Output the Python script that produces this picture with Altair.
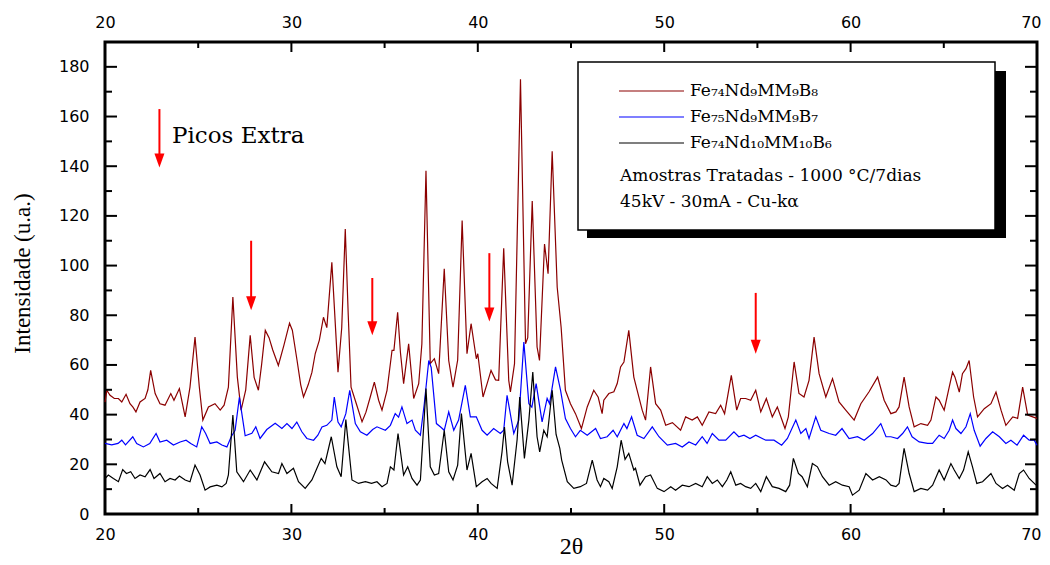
import altair as alt
import pandas as pd

# ---------------- data ----------------
names = ["Fe74Nd9MM9B8", "Fe75Nd9MM9B7", "Fe74Nd10MM10B6"]
colors = ["#8B0000", "#0000FF", "#000000"]

red_x = [20.0, 20.1, 20.27, 20.5, 20.72, 20.9, 21.13, 21.34, 21.5, 21.66, 21.88, 22.15, 22.3, 22.45, 22.69, 22.95,
         23.22, 23.53, 23.7, 23.99, 24.3, 24.56, 24.83, 25.06, 25.25, 25.55, 25.9, 26.18, 26.39, 26.62, 26.86, 27.1,
         27.3, 27.55, 27.79, 28.0, 28.23, 28.4, 28.6, 28.8, 29.0, 29.3, 29.6, 29.9, 30.05, 30.3, 30.5, 30.65, 30.9,
         31.1, 31.28, 31.5, 31.72, 31.9, 32.17, 32.5, 32.7, 32.89, 33.05, 33.2, 33.5, 33.79, 34.0, 34.23, 34.45, 34.68,
         34.86, 35.13, 35.4, 35.5, 35.7, 35.85, 36.02, 36.29, 36.56, 36.83, 37.0, 37.22, 37.45, 37.67, 37.9, 38.2,
         38.44, 38.67, 38.92, 39.16, 39.42, 39.64, 39.92, 40.0, 40.28, 40.5, 40.71, 40.95, 41.12, 41.39, 41.66, 41.75,
         41.97, 42.29, 42.56, 42.68, 42.92, 43.18, 43.31, 43.58, 43.77, 43.99, 44.26, 44.47, 44.7, 44.97, 45.24,
         45.56, 45.87, 46.22, 46.46, 46.67, 46.76, 47.03, 47.3, 47.48, 47.66, 47.84, 48.1, 48.37, 48.55, 48.82, 49.0,
         49.27, 49.54, 49.81, 50.08, 50.44, 50.88, 51.15, 51.5, 51.78, 52.04, 52.4, 52.76, 53.03, 53.24, 53.6, 53.89,
         54.1, 54.37, 54.64, 54.91, 55.18, 55.48, 55.8, 56.07, 56.48, 56.66, 56.97, 57.23, 57.5, 57.77, 58.04, 58.31,
         58.67, 59.03, 59.38, 59.74, 60.19, 60.55, 60.99, 61.45, 61.8, 62.16, 62.43, 62.6, 62.87, 63.14, 63.41, 63.77,
         64.13, 64.31, 64.58, 64.75, 65.02, 65.29, 65.47, 65.6, 65.83, 66.0, 66.19, 66.36, 66.6, 66.81, 67.17, 67.53,
         67.8, 68.07, 68.33, 68.7, 68.96, 69.23, 69.5, 69.77, 70.0]
red_y = [45.0, 49.8, 47.8, 46.5, 46.5, 45.1, 48.2, 44.4, 43.0, 41.1, 45.1, 46.5, 50.0, 57.8, 48.5, 44.4,
         43.8, 48.5, 45.8, 50.5, 39.1, 51.1, 71.2, 51.1, 37.8, 43.1, 44.4, 41.8, 43.8, 51.1, 87.3, 55.1,
         41.8, 50.0, 71.9, 55.0, 49.8, 60.0, 73.9, 71.0, 66.0, 59.8, 68.0, 76.8, 74.0, 62.0, 52.0, 47.1, 52.0,
         57.0, 64.6, 70.0, 79.2, 75.0, 101.3, 57.1, 75.0, 114.7, 80.0, 51.1, 44.0, 37.1, 41.0, 47.1, 53.1, 45.8,
         41.8, 49.8, 65.9, 65.9, 81.2, 65.0, 52.5, 68.5, 46.5, 52.5, 68.5, 138.2, 60.5, 62.5, 56.5, 98.7,
         61.8, 51.1, 62.0, 118.1, 64.5, 76.6, 62.5, 64.5, 47.1, 52.5, 57.8, 54.0, 53.8, 107.0, 53.8, 49.1,
         60.5, 175.0, 68.5, 71.0, 126.0, 67.2, 61.8, 108.7, 96.7, 146.0, 91.3, 75.2, 49.8, 44.4, 40.4,
         34.4, 43.1, 49.8, 47.0, 40.4, 45.8, 48.5, 49.2, 52.5, 59.2, 61.2, 73.9, 55.1, 49.8, 41.8, 37.8,
         59.2, 44.4, 41.8, 35.7, 36.8, 33.7, 39.1, 37.8, 39.1, 35.7, 41.1, 40.4, 43.8, 40.4, 55.8, 41.8,
         46.5, 46.5, 45.8, 49.8, 41.1, 46.5, 39.1, 43.1, 34.4, 39.1, 61.2, 48.5, 47.1, 53.8, 71.2, 56.5,
         47.1, 54.5, 45.1, 41.8, 37.8, 44.4, 49.2, 55.1, 45.8, 40.4, 41.1, 43.1, 55.1, 43.1, 35.1, 36.4,
         35.7, 37.8, 47.1, 45.8, 41.8, 51.1, 57.1, 55.1, 49.1, 56.5, 58.5, 61.8, 47.1, 39.1, 42.4, 44.4,
         49.1, 41.8, 35.7, 39.1, 38.5, 51.1, 39.8, 39.1, 38.5]

blue_x = [20.0, 20.36, 20.7, 20.9, 21.1, 21.49, 21.7, 22.06, 22.4, 22.74, 22.95, 23.31, 23.67, 24.03, 24.35, 24.6,
          24.92, 25.19, 25.4, 25.64, 26.0, 26.27, 26.54, 26.77, 26.98, 27.21, 27.35, 27.52, 27.88, 28.09, 28.32,
          28.68, 29.13, 29.49, 29.76, 30.03, 30.29, 30.56, 30.83, 31.19, 31.42, 31.64, 31.9, 32.17, 32.3, 32.5,
          32.67, 32.92, 33.13, 33.43, 33.7, 34.05, 34.36, 34.59, 35.04, 35.31, 35.57, 35.75, 35.93, 36.2, 36.47,
          36.65, 36.92, 37.13, 37.37, 37.5, 37.78, 37.99, 38.2, 38.44, 38.71, 38.97, 39.33, 39.6, 39.92, 40.23,
          40.5, 40.85, 41.21, 41.39, 41.57, 41.93, 42.2, 42.47, 42.74, 42.9, 43.13, 43.45, 43.72, 43.85, 44.17,
          44.44, 44.7, 44.97, 45.24, 45.5, 45.87, 46.32, 46.58, 46.94, 47.26, 47.48, 47.84, 48.0, 48.25, 48.55,
          48.91, 49.36, 49.72, 50.17, 50.61, 50.97, 51.33, 51.69, 52.04, 52.3, 52.58, 52.94, 53.3, 53.74, 54.0,
          54.28, 54.6, 54.91, 55.45, 55.89, 56.3, 56.61, 57.06, 57.33, 57.6, 57.77, 58.13, 58.4, 58.85, 59.2,
          59.54, 59.92, 60.37, 60.73, 61.18, 61.62, 61.9, 62.16, 62.52, 62.79, 63.05, 63.3, 63.68, 64.13, 64.4,
          64.75, 65.02, 65.29, 65.47, 65.65, 65.92, 66.19, 66.42, 66.63, 66.95, 67.26, 67.62, 67.98, 68.33, 68.6,
          68.93, 69.28, 69.58, 69.85, 70.0]
blue_y = [28.4, 27.8, 28.4, 29.7, 27.8, 31.1, 28.4, 27.0, 28.4, 32.4, 29.0, 29.7, 27.8, 29.0, 29.7, 28.4,
          27.0, 35.1, 32.4, 28.4, 29.0, 27.8, 27.0, 31.1, 33.7, 47.0, 40.0, 31.5, 32.5, 35.1, 30.4,
          34.0, 36.5, 34.4, 36.4, 34.4, 37.0, 33.1, 30.4, 29.7, 31.7, 35.0, 35.7, 37.8, 47.1, 37.0,
          35.1, 40.4, 49.8, 36.4, 33.1, 31.7, 34.0, 35.1, 33.7, 35.7, 40.4, 39.0, 43.1, 36.4, 37.8,
          33.7, 31.7, 44.4, 61.8, 59.0, 36.4, 35.1, 33.7, 41.1, 33.7, 37.8, 51.8, 39.1, 39.1, 33.7,
          31.7, 34.4, 32.4, 33.7, 47.8, 32.4, 37.8, 69.2, 44.4, 43.0, 52.5, 37.1, 46.5, 44.4, 59.2,
          49.8, 38.4, 34.4, 31.1, 33.7, 31.7, 34.4, 30.4, 31.1, 33.7, 31.1, 36.4, 34.4, 39.1, 31.7,
          30.4, 35.1, 31.1, 27.7, 28.4, 27.0, 29.0, 27.8, 31.1, 28.4, 32.4, 29.7, 29.7, 33.1, 31.1,
          31.7, 30.4, 31.7, 29.7, 29.7, 27.7, 30.4, 37.8, 32.4, 34.4, 30.4, 39.1, 33.7, 32.4, 31.7,
          34.4, 30.4, 31.1, 29.7, 32.4, 36.4, 31.1, 31.1, 30.4, 32.4, 35.1, 31.1, 29.0, 28.4, 28.4,
          31.7, 30.4, 33.7, 37.8, 34.4, 32.4, 35.1, 40.4, 33.7, 27.3, 30.4, 33.1, 31.1, 28.4, 29.7,
          27.7, 31.7, 29.7, 29.7, 27.7]

black_x = [20.0, 20.18, 20.45, 20.72, 20.95, 21.15, 21.38, 21.61, 21.88, 22.15, 22.42, 22.63, 22.95, 23.22, 23.49,
           23.76, 23.99, 24.3, 24.56, 24.83, 25.1, 25.37, 25.64, 26.0, 26.27, 26.5, 26.62, 26.86, 27.07, 27.43,
           27.79, 28.15, 28.56, 28.95, 29.31, 29.49, 29.76, 30.11, 30.38, 30.74, 31.1, 31.37, 31.6, 31.8, 32.14,
           32.44, 32.67, 32.92, 33.25, 33.6, 33.97, 34.3, 34.59, 34.86, 35.13, 35.31, 35.5, 35.72, 36.02, 36.24,
           36.47, 36.74, 36.92, 37.22, 37.45, 37.67, 37.9, 38.2, 38.44, 38.67, 38.92, 39.12, 39.42, 39.64, 39.92,
           40.23, 40.5, 40.71, 41.04, 41.3, 41.43, 41.6, 41.84, 42.11, 42.25, 42.5, 42.74, 42.95, 43.18, 43.32,
           43.54, 43.72, 43.99, 44.2, 44.4, 44.5, 44.8, 45.15, 45.5, 45.83, 46.14, 46.4, 46.58, 46.76, 47.03,
           47.21, 47.48, 47.69, 47.9, 48.1, 48.37, 48.46, 48.7, 49.0, 49.27, 49.63, 49.99, 50.35, 50.61, 50.97,
           51.33, 51.69, 52.04, 52.31, 52.58, 52.85, 53.12, 53.36, 53.57, 53.84, 54.1, 54.37, 54.64, 54.91, 55.18,
           55.48, 55.8, 56.16, 56.52, 56.73, 56.93, 57.2, 57.4, 57.68, 57.95, 58.22, 58.49, 58.85, 59.2, 59.56,
           59.92, 60.1, 60.46, 60.82, 61.18, 61.54, 61.9, 62.16, 62.43, 62.6, 62.87, 63.14, 63.41, 63.77, 64.13,
           64.4, 64.75, 65.02, 65.38, 65.56, 65.83, 66.06, 66.31, 66.54, 66.77, 67.08, 67.53, 67.8, 68.15, 68.42,
           68.78, 69.05, 69.28, 69.58, 69.95]
black_y = [14.3, 15.7, 14.3, 13.0, 17.9, 16.3, 17.0, 14.3, 15.7, 15.0, 17.9, 14.3, 16.3, 13.0, 14.3,
           13.7, 15.3, 13.7, 13.0, 19.7, 15.7, 9.6, 10.9, 11.6, 10.9, 12.3, 15.7, 39.8, 17.0, 13.0,
           17.7, 13.7, 21.0, 17.0, 16.3, 20.3, 16.3, 18.4, 13.0, 10.3, 13.7, 18.4, 22.4, 20.3, 31.1,
           19.0, 15.0, 38.0, 13.7, 12.3, 13.0, 12.3, 13.0, 11.0, 12.3, 19.0, 17.7, 32.4, 15.7, 19.0,
           14.3, 11.6, 13.7, 50.5, 19.0, 15.7, 16.3, 33.7, 17.0, 13.7, 19.7, 40.4, 17.7, 24.4, 11.0,
           13.0, 14.3, 12.3, 10.3, 25.0, 35.0, 21.0, 11.6, 30.0, 47.1, 22.4, 37.8, 57.1, 31.1, 25.0,
           33.7, 31.1, 49.8, 32.0, 26.4, 21.7, 13.0, 10.3, 11.0, 12.3, 21.7, 13.7, 11.0, 14.3, 13.0,
           10.3, 19.0, 29.7, 22.0, 24.4, 17.7, 18.4, 11.6, 15.0, 15.7, 10.3, 9.0, 11.0, 9.6, 11.6,
           11.0, 12.3, 11.0, 15.0, 12.3, 13.7, 11.0, 13.7, 17.0, 11.6, 12.3, 11.0, 10.3, 12.3, 9.0,
           15.0, 11.0, 10.3, 9.0, 11.6, 22.4, 16.3, 15.0, 11.0, 20.3, 19.0, 15.0, 11.6, 13.0, 11.6,
           11.0, 7.6, 9.6, 16.3, 13.7, 15.0, 13.7, 11.6, 11.0, 12.3, 26.4, 16.3, 9.0, 10.3, 9.6,
           11.6, 17.7, 13.7, 20.3, 17.7, 14.3, 17.7, 25.0, 19.0, 12.3, 13.0, 16.3, 12.3, 10.3, 11.6,
           9.6, 16.3, 17.7, 14.3, 11.6]

# tick values
x_major = [20, 30, 40, 50, 60, 70]
x_minor = [25, 35, 45, 55, 65]
y_major = [0, 20, 40, 60, 80, 100, 120, 140, 160, 180]
y_minor = [10, 30, 50, 70, 90, 110, 130, 150, 170]

# "Picos Extra" arrows: 2theta position, top and tip intensity
arrow_x = [22.92, 27.84, 34.34, 40.62, 54.91]
arrow_top = [163, 110, 95, 105, 89]
arrow_tip = [139.5, 82, 72, 77.5, 64.5]

# ---------------- build tables ----------------
frames = []
for n, xs, ys in zip(names, [red_x, blue_x, black_x], [red_y, blue_y, black_y]):
    frames.append(pd.DataFrame({"theta": xs, "I": ys, "series": n}))
df = pd.concat(frames, ignore_index=True)

W, H = 932, 472
xscale = alt.Scale(domain=[20, 70], nice=False, zero=False)
yscale = alt.Scale(domain=[0, 190], nice=False, zero=False)

lab = dict(labelFont="DejaVu Sans", labelFontSize=16, labelColor="black", labelFlush=False,
           domain=False, ticks=False, tickSize=0, grid=False)
# keep the last x label ("70") inside the page edge
last_align = {"condition": {"test": "datum.value >= 70", "value": "right"}, "value": "center"}
last_offset = {"condition": {"test": "datum.value >= 70", "value": 4}, "value": 0}

lines = alt.Chart(df).mark_line(strokeWidth=1.2).encode(
    x=alt.X("theta:Q", scale=xscale,
            axis=alt.Axis(orient="bottom", values=x_major, format="d", labelPadding=12,
                          labelAlign=last_align, labelOffset=last_offset,
                          title="2θ", titleFont="Liberation Serif", titleFontSize=24,
                          titleFontWeight="normal", titleColor="black",
                          titleX=466, titleY=32, titleAlign="center", titleBaseline="middle", **lab)),
    y=alt.Y("I:Q", scale=yscale,
            axis=alt.Axis(orient="left", values=y_major, format="d", labelPadding=16,
                          title="Intensidade (u.a.)", titleFont="Liberation Serif", titleFontSize=23,
                          titleFontWeight="normal", titleColor="black", titleAngle=270,
                          titleX=-83, titleY=231, titleAlign="center", titleBaseline="middle", **lab)),
    color=alt.Color("series:N", scale=alt.Scale(domain=names, range=colors), legend=None),
)

xmaj = pd.DataFrame({"v": x_major})
xmin = pd.DataFrame({"v": x_minor})
ymaj = pd.DataFrame({"v": y_major})
ymin = pd.DataFrame({"v": y_minor})

tick_style = dict(color="black", strokeWidth=2)

# top axis labels (with top major ticks)
top_ticks = alt.Chart(xmaj).mark_rule(**tick_style).encode(
    x=alt.X("v:Q", scale=xscale,
            axis=alt.Axis(orient="top", values=x_major, format="d", labelPadding=12, title=None,
                          labelAlign=last_align, labelOffset=last_offset, **lab)),
    y=alt.value(0), y2=alt.value(10))
bot_ticks = alt.Chart(xmaj).mark_rule(**tick_style).encode(
    x=alt.X("v:Q", scale=xscale, axis=None), y=alt.value(H), y2=alt.value(H - 10))
top_minor = alt.Chart(xmin).mark_rule(**tick_style).encode(
    x=alt.X("v:Q", scale=xscale, axis=None), y=alt.value(0), y2=alt.value(6))
bot_minor = alt.Chart(xmin).mark_rule(**tick_style).encode(
    x=alt.X("v:Q", scale=xscale, axis=None), y=alt.value(H), y2=alt.value(H - 6))
left_ticks = alt.Chart(ymaj).mark_rule(**tick_style).encode(
    y=alt.Y("v:Q", scale=yscale, axis=None), x=alt.value(0), x2=alt.value(12))
right_ticks = alt.Chart(ymaj).mark_rule(**tick_style).encode(
    y=alt.Y("v:Q", scale=yscale, axis=None), x=alt.value(W), x2=alt.value(W - 12))
left_minor = alt.Chart(ymin).mark_rule(**tick_style).encode(
    y=alt.Y("v:Q", scale=yscale, axis=None), x=alt.value(0), x2=alt.value(7))
right_minor = alt.Chart(ymin).mark_rule(**tick_style).encode(
    y=alt.Y("v:Q", scale=yscale, axis=None), x=alt.value(W), x2=alt.value(W - 7))

# arrows
adf = pd.DataFrame({"x": arrow_x, "top": arrow_top, "tip": arrow_tip})
adf["head"] = adf["tip"] + 2.8
shafts = alt.Chart(adf).mark_rule(color="#FF0000", strokeWidth=2).encode(
    x=alt.X("x:Q", scale=xscale, axis=None),
    y=alt.Y("top:Q", scale=yscale, axis=None), y2="head:Q")
heads = alt.Chart(adf).mark_point(shape="M-1,-1.4L1,-1.4L0,1.4Z", filled=True, size=100,
                                  color="#FF0000", opacity=1).encode(
    x=alt.X("x:Q", scale=xscale, axis=None),
    y=alt.Y("head:Q", scale=yscale, axis=None))

one = pd.DataFrame({"a": [0]})
picos = alt.Chart(one).mark_text(text="Picos Extra", font="DejaVu Serif", fontSize=23, align="left",
                                 baseline="middle", color="black").encode(
    x=alt.value(67), y=alt.value(94))

# legend box with shadow
shadow = alt.Chart(one).mark_rect(color="black").encode(
    x=alt.value(482), x2=alt.value(901), y=alt.value(29), y2=alt.value(196))
box = alt.Chart(one).mark_rect(fill="white", stroke="black", strokeWidth=1.5).encode(
    x=alt.value(473), x2=alt.value(890), y=alt.value(20), y2=alt.value(188))

leg_labels = ["Fe₇₄Nd₉MM₉B₈", "Fe₇₅Nd₉MM₉B₇", "Fe₇₄Nd₁₀MM₁₀B₆"]
leg_layers = []
for i, (lbl, col) in enumerate(zip(leg_labels, colors)):
    yy = 49 + 26 * i
    leg_layers.append(alt.Chart(one).mark_rule(color=col, strokeWidth=1.2).encode(
        x=alt.value(514), x2=alt.value(579), y=alt.value(yy)))
    leg_layers.append(alt.Chart(one).mark_text(text=lbl, font="DejaVu Serif", fontSize=17, align="left",
                                               baseline="middle", color="black").encode(
        x=alt.value(585), y=alt.value(yy)))
info1 = alt.Chart(one).mark_text(text="Amostras Tratadas - 1000 °C/7dias", font="DejaVu Serif", fontSize=17,
                                 align="left", baseline="middle", color="black").encode(
    x=alt.value(515), y=alt.value(134))
info2 = alt.Chart(one).mark_text(text="45kV - 30mA - Cu-kα", font="DejaVu Serif", fontSize=17,
                                 align="left", baseline="middle", color="black").encode(
    x=alt.value(515), y=alt.value(160))

chart = alt.layer(
    lines, top_ticks, bot_ticks, top_minor, bot_minor, left_ticks, right_ticks, left_minor, right_minor,
    shafts, heads, picos, shadow, box, *leg_layers, info1, info2
).resolve_axis(x="independent", y="independent").properties(
    width=W, height=H,
    autosize=alt.AutoSizeParams(type="none"),
    padding={"left": 97, "top": 34, "right": 5, "bottom": 43},
    background="white",
).configure_view(stroke="black", strokeWidth=3)

chart.save("out.html", embed_options={"renderer": "svg", "actions": False})
